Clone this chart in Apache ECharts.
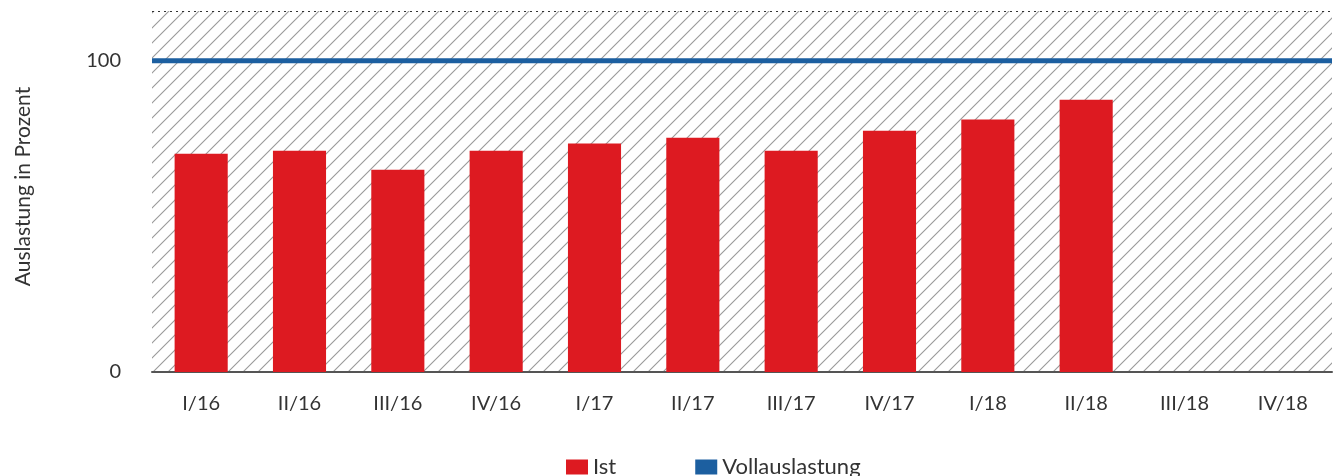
<!DOCTYPE html>
<html>
<head>
<meta charset="utf-8">
<script src="https://cdn.jsdelivr.net/npm/echarts@6/dist/echarts.min.js"></script>
<style>
  html, body { margin: 0; padding: 0; background: #fff; }
  #chart { width: 1344px; height: 476px; }
</style>
</head>
<body>
<div id="chart"></div>
<script>
// Quartale
const quarters = ['I/16', 'II/16', 'III/16', 'IV/16', 'I/17', 'II/17', 'III/17', 'IV/17', 'I/18', 'II/18', 'III/18', 'IV/18'];
// Ist-Auslastung in Prozent
const istValues = [70.1, 71.1, 65.0, 71.1, 73.4, 75.3, 71.1, 77.5, 81.1, 87.5, null, null];
// Vollauslastung
const fullLoad = [100, 100, 100, 100, 100, 100, 100, 100, 100, 100, 100, 100];
const yTicks = [0, 100];
const yMax = 116;

const fontFamily = 'Lato, "Open Sans", sans-serif';

// Schraffur fuer den Hintergrund
function hatchPattern() {
  const s = 15;
  const c = document.createElement('canvas');
  c.width = s;
  c.height = s;
  const ctx = c.getContext('2d');
  ctx.strokeStyle = '#9a9a9a';
  ctx.lineWidth = 1.1;
  ctx.beginPath();
  ctx.moveTo(-1, s + 1);
  ctx.lineTo(s + 1, -1);
  ctx.moveTo(-1, 1);
  ctx.lineTo(1, -1);
  ctx.moveTo(s - 1, s + 1);
  ctx.lineTo(s + 1, s - 1);
  ctx.stroke();
  return c;
}

const chart = echarts.init(document.getElementById('chart'));

chart.setOption({
  animation: false,
  textStyle: { fontFamily: fontFamily },
  grid: {
    left: 152,
    right: 12,
    top: 11,
    bottom: 104,
    show: true,
    borderWidth: 0,
    backgroundColor: { image: hatchPattern(), repeat: 'repeat' }
  },
  legend: {
    left: 561,
    top: 451,
    itemWidth: 22,
    itemHeight: 15,
    itemGap: 79,
    icon: 'rect',
    textStyle: { fontSize: 22, color: '#333', fontFamily: fontFamily },
    data: ['Ist', 'Vollauslastung']
  },
  xAxis: [
    {
      type: 'category',
      data: quarters,
      axisLine: { lineStyle: { color: '#555', width: 2 } },
      axisTick: { show: false },
      axisLabel: { fontSize: 20, color: '#333', margin: 22 }
    },
    {
      type: 'category',
      data: quarters,
      boundaryGap: false,
      show: false
    }
  ],
  yAxis: {
    type: 'value',
    min: 0,
    max: yMax,
    interval: 100,
    name: 'Auslastung in Prozent',
    nameLocation: 'middle',
    nameGap: 118,
    nameTextStyle: { fontSize: 21, color: '#333', padding: [0, 0, 0, 10] },
    axisLine: { show: false },
    axisTick: { show: false },
    splitLine: { show: false },
    axisLabel: {
      fontSize: 20,
      color: '#333',
      margin: 31,
      customValues: yTicks
    }
  },
  series: [
    {
      name: 'Ist',
      type: 'bar',
      data: istValues,
      barWidth: '54%',
      itemStyle: { color: '#dd1a21' },
      markLine: {
        silent: true,
        symbol: 'none',
        label: { show: false },
        lineStyle: { type: [2, 4], color: '#333', width: 1.2 },
        data: [{ yAxis: yMax }]
      }
    },
    {
      name: 'Vollauslastung',
      type: 'line',
      xAxisIndex: 1,
      data: fullLoad,
      symbol: 'none',
      color: '#1c5fa0',
      lineStyle: { color: '#1c5fa0', width: 5 }
    }
  ]
});
</script>
</body>
</html>
